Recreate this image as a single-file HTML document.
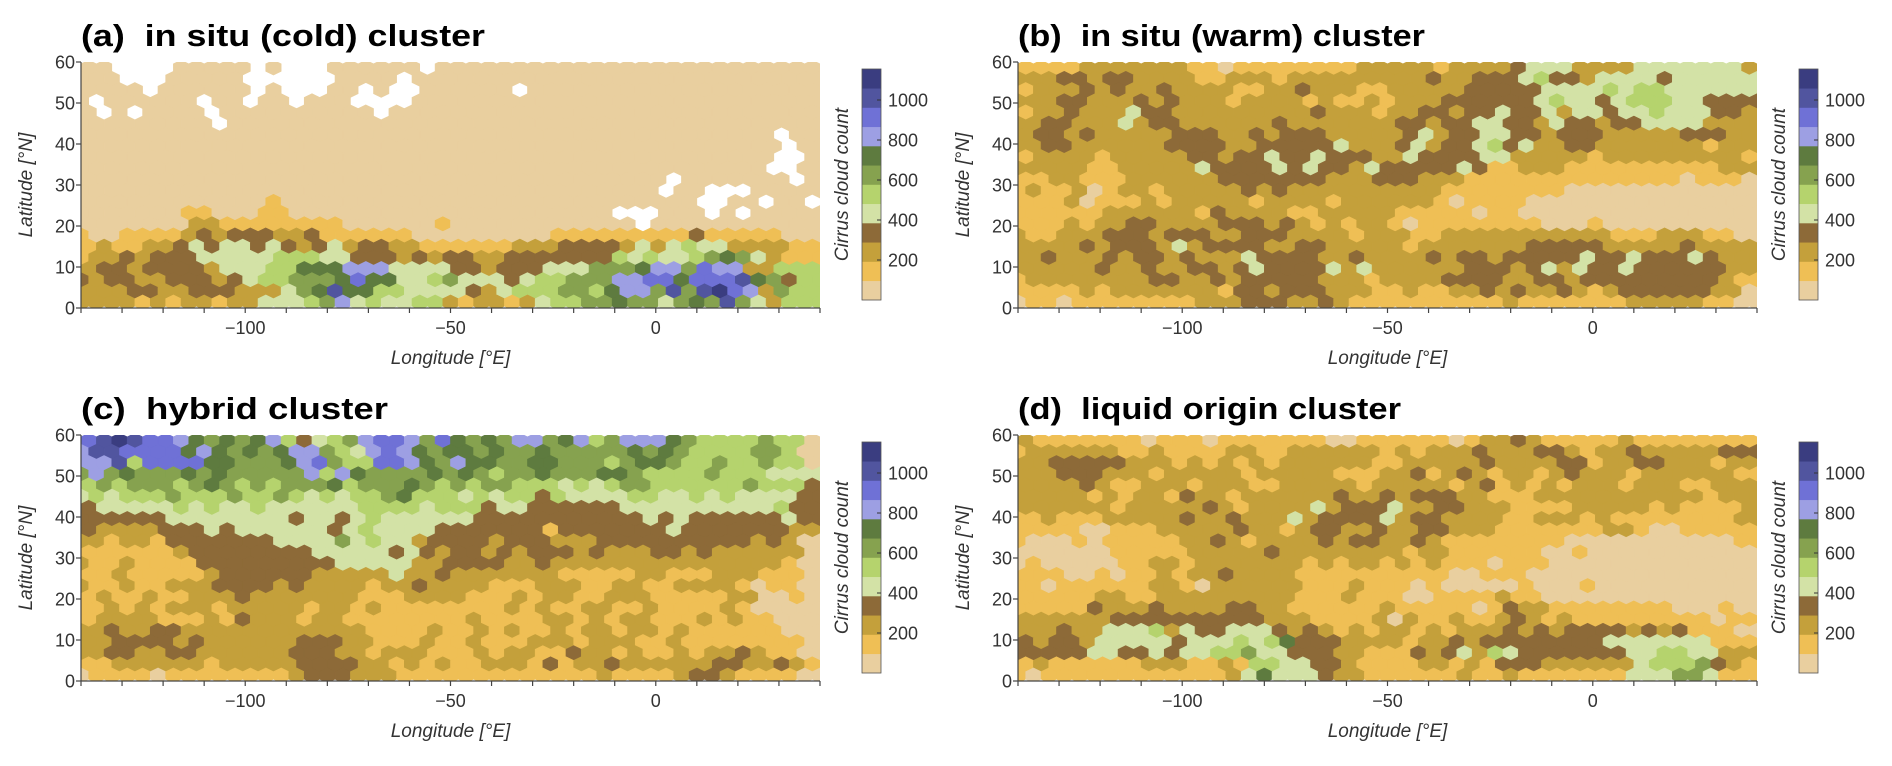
<!DOCTYPE html>
<html><head><meta charset="utf-8">
<style>
html,body{margin:0;padding:0;background:#fff;}
svg text{font-family:"Liberation Sans",Arial,sans-serif;}
.title{font-weight:bold;font-size:31px;fill:#000;white-space:pre;}
.tick{font-size:18px;fill:#333;}
.axl{font-size:19px;fill:#333;font-style:italic;}
</style></head>
<body>
<svg id="fig" width="1892" height="761" viewBox="0 0 1892 761" xmlns="http://www.w3.org/2000/svg">
<defs></defs>
</svg>
<script>
// ---- data (level codes per hex: 0..9,a,b = colour-bar bin; '.' = no data) ----
const levelCodes = "0123456789ab";
const binColors = ["#e9cf9f","#efbf55","#c4a03b","#8d6a38","#d3e2a6","#b5d36d","#86a24f","#5e7b3f","#9d9fe3","#6f71d6","#51559f","#3a3d80"];
const colorbarTicks = [200,400,600,800,1000];
const binSize = 100;
const cbMax = 1155;
const lonTicks = [-140,-130,-120,-110,-100,-90,-80,-70,-60,-50,-40,-30,-20,-10,0,10,20,30,40];
const lonLabels = [-100,-50,0];
const latTicks = [0,10,20,30,40,50,60];
const panelTitles = ["(a)  in situ (cold) cluster","(b)  in situ (warm) cluster","(c)  hybrid cluster","(d)  liquid origin cluster"];

const panelA = [
"00....00000.0...000000.0000000000000000000000000",
"000...00000......0000.00000000000000000000000000",
"0000.000000.0...00.0..000000.0000000000000000000",
"0.000000.00.00.000....00000000000000000000000000",
"0.0.0000.0000000000.0000000000000000000000000000",
"000000000.00000000000000000000000000000000000000",
"000000000000000000000000000000000000000000000.00",
"0000000000000000000000000000000000000000000000.0",
"000000000000000000000000000000000000000000000..0",
"000000000000000000000000000000000000000000000..0",
"00000000000000000000000000000000000000.0000000.0",
"00000000000000000000000000000000000000.00...0000",
"0000000000001000000000000000000000000000..00.00..0",
"00000001100011000000000000000000000...000.0.0000",
"000000022111111110000001000000000000.00000000000",
"100111123233322311111100000000011111111131111100",
"121122343443432342332211111122233332424544222211",
"122323334444455544333232332233333335454456764211",
"233233332444557778884444332333444666788698822555",
"3233223332345566679774456444345566688997999a7635",
"2223322333222467a775544443245556657886a6ab982655",
"222212122122444568454455212212455667664676a64255"];

const panelB = [
"111122222221101111111122222122223444222244444442",
"222332332222112221222222222322333453324444344444",
"122232322322221122322211222223333344445455444444",
"222332223232221222212112122233333345443455544333",
"122322243322222222232221223323343342443445444332",
"223322242332222223222222233233443324332334444222",
"233232222233322323332222234233443323332222233322",
"223322222233332233333422234233453422332222222122",
"122221222223323343343332243333442222212222222221",
"222221122222433334343324333334311222111111111122",
"112211122222233333332223332221111111111111101110",
"121120122122222323222222222211111111000000000000",
"111201112122222122221222222101111000000000000000",
"111111222222132222112222211111011000000000000000",
"111212233222233323212122101111111100010000000000",
"211222333233322333222212221122222222222111222110",
"222232333242333322332222212222222333332222232222",
"223222323323222433332232222323323333343343334322",
"222223223223323433334242222223332342433433333322",
"122222222332232333332221222233332233233333333321",
"111121222222213323332221121122323223212333333220",
"011011111111222333223211111111112111111122222110"];

const panelC = [
"9aba9987676785345689986976768867856888765555655",
"8aa99997876767886548987677676676666676765555665",
"88a59999776667896559987687766776665677655655655",
"686766676766666858766667676566766677655556555444",
"565666567656566675666765656655545456655555565553",
"454555655565565454556755545455354444554454544443",
"344444545445444444555545553443333334444444444533",
"333333444444443443454444443333333333343433333343",
"322223334344444434544443333333133333334333333322",
"221221333333344446454423333233322233333333332320",
"111111233333333444443432332323332322233232222220",
"211211113333333334444422333322322222222222222210",
"112111112333333222224223222222211111221112221110",
"211211222333323222212232222111222112211222210110",
"121121122232222222111222211121221122211111220010",
"112121222122222122121111111121211221121111210000",
"122221112132221221111111121111221212211121211000",
"223223322222222222211112112121121221221211111100",
"223333232222223332211121121112221222112111111110",
"223322332222223332212221112122113221211212232110",
"112222221222223333221212112221312232222223322321",
"011110111111112333222111111111111121111233211110"];

const panelD = [
"211111110111011111110011111101223211111211111111",
"122222211211112211222222121222322233212232222233",
"223333322212121212222221122222322223312233222122",
"222333222122222122222111223123212212322212222221",
"222232112221222112222212222212312121222122211222",
"222221212213221222222322323332211122222222222122",
"222222122222321222242333422332221111222221211112",
"112111222223223222423333423322221122212111111112",
"111100111222223221233223223322211111112210011111",
"100010111112232122223233223211111111000000000001",
"000000111112222232222222212211111100100000000000",
"010000011221222222212122121211101110000000000000",
"111001011212232222111111111100111000000000000000",
"110111111221022222211121110100000100010000000000",
"111112211222222222111211100111121100000000000000",
"111113222322223322111111211111013221111111100010",
"222222333333333322211112021121123212111111111011",
"222322444524334443232121221212223232333323231110",
"323324444434445457333222212232333333334444444111",
"333334433434455644333221113234254333333344554422",
"121111112221121554433211112212133322222245556321",
"101111111111112474443221111112112111111144466411"];

const panels = [
  {x0:81,  y0:62,  rows:panelA, name:"a"},
  {x0:1018,y0:62,  rows:panelB, name:"b"},
  {x0:81,  y0:435, rows:panelC, name:"c"},
  {x0:1018,y0:435, rows:panelD, name:"d"}
];

// ---- geometry ----
const W = 739, H = 246, NC = 48, NR = 22;
const svgNS = "http://www.w3.org/2000/svg";
const fig = document.getElementById("fig");
const defs = fig.querySelector("defs");
function mk(tag, attrs, parent){
  const e = document.createElementNS(svgNS, tag);
  for (const k in attrs) e.setAttribute(k, attrs[k]);
  (parent||fig).appendChild(e);
  return e;
}
function xScale(p, lon){ return p.x0 + (lon + 140) / 180 * W; }
function yScale(p, lat){ return p.y0 + H - lat / 60 * H; }
function levelToCount(ch){ return levelCodes.indexOf(ch) * binSize + binSize/2; }
function countColor(v){ let i = Math.floor(v / binSize); if (i > 11) i = 11; if (i < 0) i = 0; return binColors[i]; }

const colW = W / NC, rowP = H / NR, hh = rowP / 1.5, hw = colW / 2;
function hexPts(cx, cy){
  return [[cx,cy-hh],[cx+hw,cy-hh/2],[cx+hw,cy+hh/2],[cx,cy+hh],[cx-hw,cy+hh/2],[cx-hw,cy-hh/2]]
    .map(q=>q[0].toFixed(2)+","+q[1].toFixed(2)).join(" ");
}

panels.forEach((p, pi) => {
  const g = mk("g", {});
  
  
  const cp = mk("clipPath", {id:"clip"+p.name}, defs);
  mk("rect", {x:p.x0, y:p.y0, width:W, height:H}, cp);
  const hg = mk("g", {"clip-path":"url(#clip"+p.name+")"}, g);
  
  
  p.rows.forEach((row, r) => {
    const cy = p.y0 + (r + 0.5) * rowP;
    const odd = r % 2 === 1;
    const n = odd ? NC + 1 : NC;
    for (let c = 0; c < n; c++) {
      const ch = row[Math.min(c, NC - 1)] || "0";
      if (ch === ".") continue;
      const cx = p.x0 + c * colW + (odd ? 0 : hw);
      const col = countColor(levelToCount(ch));
      const h = mk("polygon", {points:hexPts(cx, cy), fill:col, stroke:col, "stroke-width":"0.6"}, hg);
      
      
    }
  });
  // axes
  const ax = mk("g", {stroke:"#444", "stroke-width":"1.2", fill:"none"}, g);
  
  
  mk("line", {x1:p.x0, y1:p.y0, x2:p.x0, y2:p.y0+H+0.5}, ax);
  mk("line", {x1:p.x0, y1:p.y0+H, x2:p.x0+W, y2:p.y0+H}, ax);
  latTicks.forEach(lat => {
    const y = yScale(p, lat);
    mk("line", {x1:p.x0-5, y1:y, x2:p.x0, y2:y}, ax);
    const t = mk("text", {x:p.x0-6, y:y+6.5, "text-anchor":"end", class:"tick"}, g);
    t.textContent = String(lat);
    
    
  });
  lonTicks.forEach(lon => {
    const x = xScale(p, lon);
    mk("line", {x1:x, y1:p.y0+H, x2:x, y2:p.y0+H+5}, ax);
  });
  lonLabels.forEach(lon => {
    const x = xScale(p, lon);
    const t = mk("text", {x:x, y:p.y0+H+26, "text-anchor":"middle", class:"tick"}, g);
    t.textContent = lon < 0 ? "\u2212" + Math.abs(lon) : String(lon);
    
    
  });
  const xl = mk("text", {x:p.x0+W/2, y:p.y0+H+56, "text-anchor":"middle", class:"axl"}, g);
  xl.textContent = "Longitude [°E]";
  
  
  const ly = p.y0 + H/2, lx = p.x0 - 49;
  const yl = mk("text", {x:lx, y:ly, "text-anchor":"middle", class:"axl", transform:"rotate(-90 "+lx+" "+ly+")"}, g);
  yl.textContent = "Latitude [°N]";
  
  
  // title
  const tw = [404, 407, 307, 383][pi];
  const tt = mk("text", {x:p.x0, y:p.y0-16, class:"title", textLength:tw, lengthAdjust:"spacingAndGlyphs"}, g);
  tt.textContent = panelTitles[pi];
  
  
  // colorbar
  const cbx = p.x0 + 781, cby = p.y0 + 7, cbh = 231, cbw = 19;
  const cb = mk("g", {}, g);
  
  
  const cbScale = v => cby + cbh - v / cbMax * cbh;
  binColors.forEach((col, i) => {
    const yTop = cbScale(Math.min((i+1)*binSize*cbMax/1200, cbMax));
    const yBot = cbScale(i*binSize*cbMax/1200);
    const s = mk("rect", {x:cbx, y:yTop, width:cbw, height:yBot-yTop+0.3, fill:col}, cb);
    
    
  });
  mk("rect", {x:cbx, y:cby, width:cbw, height:cbh, fill:"none", stroke:"#555", "stroke-width":"0.8"}, cb);
  colorbarTicks.forEach(v => {
    const y = cbScale(v);
    mk("line", {x1:cbx+cbw-4, y1:y, x2:cbx+cbw, y2:y, stroke:"#333", "stroke-width":"1"}, cb);
    const t = mk("text", {x:cbx+cbw+7, y:y+6.5, class:"tick"}, cb);
    t.textContent = String(v);
    
    
  });
  const clx = cbx - 14, cly = cby + cbh/2;
  const cl = mk("text", {x:clx, y:cly, "text-anchor":"middle", class:"axl", transform:"rotate(-90 "+clx+" "+cly+")"}, cb);
  cl.textContent = "Cirrus cloud count";
  
  
});
</script>
</body></html>
